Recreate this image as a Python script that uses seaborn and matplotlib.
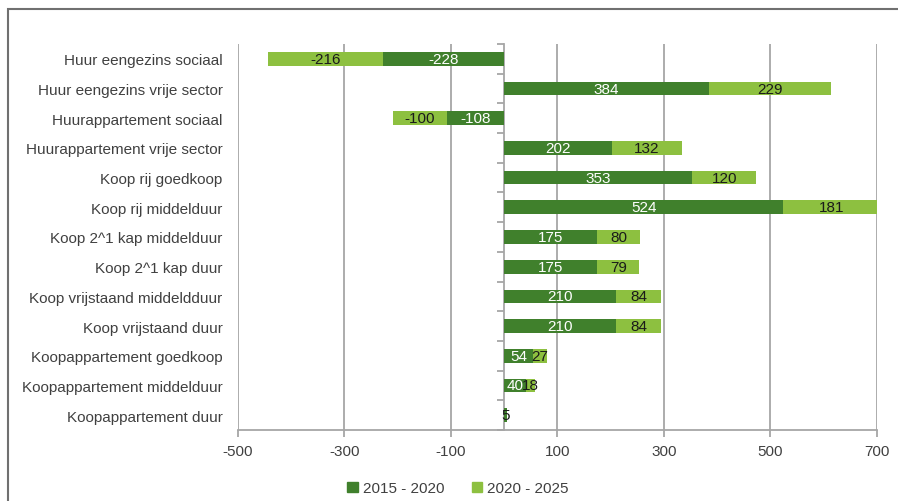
import pandas as pd
import matplotlib.pyplot as plt
from matplotlib.patches import Patch, Rectangle
import seaborn as sns

categories = ['Huur eengezins sociaal', 'Huur eengezins vrije sector', 'Huurappartement sociaal',
              'Huurappartement vrije sector', 'Koop rij goedkoop', 'Koop rij middelduur',
              'Koop 2^1 kap middelduur', 'Koop 2^1 kap duur', 'Koop vrijstaand middeldduur',
              'Koop vrijstaand duur', 'Koopappartement goedkoop', 'Koopappartement middelduur',
              'Koopappartement duur']
p2015 = [-228, 384, -108, 202, 353, 524, 175, 175, 210, 210, 54, 40, 5]
p2020 = [-216, 229, -100, 132, 120, 181, 80, 79, 84, 84, 27, 18, 0]
series = ['2015 - 2020', '2020 - 2025']
xticks = [-500, -300, -100, 100, 300, 500, 700]

dark = '#40802c'
light = '#8dc040'
grey = '#a6a6a6'

df = pd.DataFrame({'cat': categories, 'a': p2015, 'b': p2020})
df['total'] = df['a'] + df['b']

sns.set_style("white")
plt.rcParams['font.family'] = ['Liberation Sans', 'DejaVu Sans']

fig = plt.figure(figsize=(8.98, 5.02), dpi=100)
ax = fig.add_axes([0.265, 0.1414, 0.7116, 0.769])

# light bar = total, dark bar drawn on top
sns.barplot(data=df, x='total', y='cat', color=light, saturation=1, width=0.46, ax=ax,
            orient='h', linewidth=0)
sns.barplot(data=df, x='a', y='cat', color=dark, saturation=1, width=0.46, ax=ax,
            orient='h', linewidth=0)

for i, r in df.iterrows():
    if r['a'] != 0:
        c = 'white' if abs(r['a']) >= 20 else '#1a1a1a'
        ax.text(r['a'] / 2, i, str(r['a']), ha='center', va='center', fontsize=11, color=c)
    if r['b'] != 0:
        ax.text(r['a'] + r['b'] / 2, i, str(r['b']), ha='center', va='center', fontsize=11, color='#1a1a1a')

ax.set_xlim(-500, 700)
ax.set_ylim(12.5, -0.5)
ax.set_xticks(xticks)
ax.set_xticklabels([str(t) for t in xticks], fontsize=11, color='#404040')
ax.tick_params(axis='x', bottom=True, length=5, color=grey, width=1.3, pad=5)
ax.tick_params(axis='y', length=0, labelsize=11, labelcolor='#404040', pad=11)
ax.set_xlabel('')
ax.set_ylabel('')
ax.set_axisbelow(True)
ax.grid(axis='x', color=grey, lw=1.3)
for s in ['top', 'right', 'left']:
    ax.spines[s].set_visible(False)
ax.spines['bottom'].set_visible(True)
ax.spines['bottom'].set_color(grey)
ax.spines['bottom'].set_linewidth(1.3)
ax.spines['bottom'].set_zorder(5)

# vertical axis at zero with ticks between categories
sec = ax.secondary_yaxis(500 / 1200)
sec.set_yticks([i + 0.5 for i in range(-1, len(categories))])
sec.set_yticklabels([])
sec.tick_params(left=True, length=5, color=grey, width=1.3)
sec.spines['left'].set_color(grey)
sec.spines['left'].set_linewidth(1.3)

handles = [Patch(color=dark, label=series[0]), Patch(color=light, label=series[1])]
fig.legend(handles=handles, loc='center', bbox_to_anchor=(0.51, 0.025), ncol=2, frameon=False,
           handlelength=0.7, handleheight=0.7, handletextpad=0.3, columnspacing=1.8, fontsize=11,
           labelcolor='#404040')

fig.patches.append(Rectangle((8 / 898, -0.1), 1.2, 1.1 - 10 / 502, transform=fig.transFigure,
                             fill=False, edgecolor='#707070', lw=1.5))

plt.savefig('out.png', dpi=100)
